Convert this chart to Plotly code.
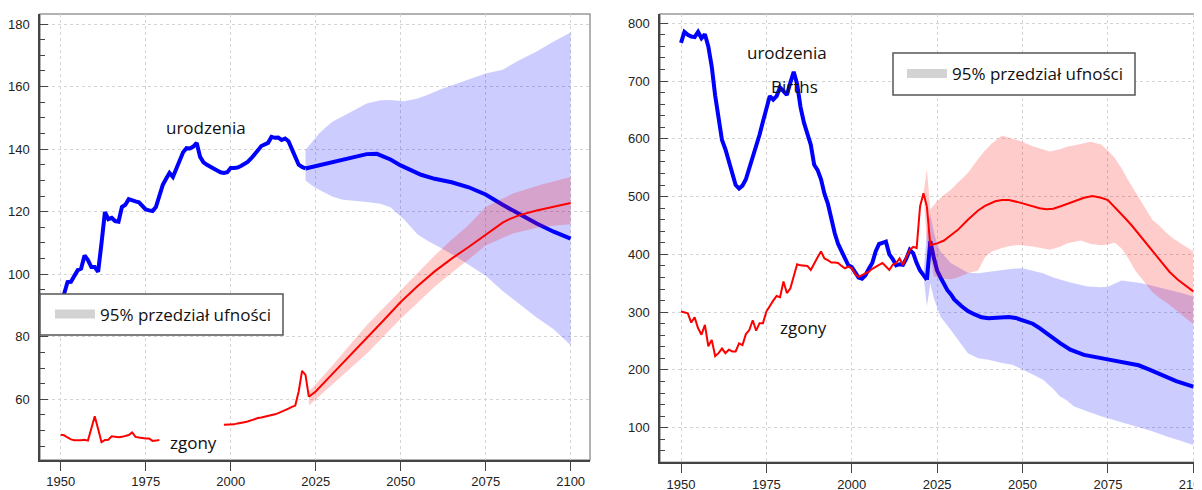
import plotly.graph_objects as go

# ---------------- left panel (thousands) ----------------
births_hist_yr = list(range(1950, 2023))
births_hist = [90, 93.5, 97.5, 97.6, 99.5, 101.3, 101.8, 106, 104.5, 102.3,
               102.3, 100.8, 110, 119.9, 117.6, 118, 117, 116.8, 121.5, 122.2,
               124, 123.5, 123.3, 123, 122, 120.7, 120.4, 120.2, 121.5, 125,
               128.5, 130.5, 132.4, 131.1, 134, 136.5, 139, 140.3, 140.2, 140.8,
               142, 137.5, 135.8, 135, 134.5, 133.9, 133.2, 132.6, 132.4, 132.6,
               134, 134, 134.1, 134.6, 135.3, 135.9, 137, 138.1, 139.6, 141,
               141.6, 142, 143.9, 143.6, 143.7, 142.9, 143.4, 142.5, 140, 137.5,
               135, 134.3, 133.8]
births_proj_yr = [2022, 2025, 2030, 2035, 2040, 2043, 2047, 2050, 2053, 2056,
                  2060, 2065, 2070, 2075, 2080, 2085, 2090, 2095, 2100]
births_proj = [133.8, 134.6, 135.9, 137.2, 138.4, 138.5, 136.7, 134.8, 133.2, 131.8,
               130.5, 129.4, 127.8, 125.5, 122.2, 119.2, 116.2, 113.6, 111.4]
births_ci_yr = [2022, 2024, 2026, 2028, 2030, 2033, 2036, 2040, 2044, 2047, 2051,
                2055, 2058, 2062, 2066, 2070, 2075, 2080, 2085, 2090, 2095, 2100]
births_ci_hi = [139.7, 142.5, 145, 147, 148.8, 150.5, 152.2, 154.6, 155.6, 155.7, 155.3,
                156.2, 157.4, 159.2, 160.7, 162.3, 164.2, 165.4, 168.5, 171.2, 174.4, 177.3]
births_ci_lo = [130, 128.3, 127, 125.8, 124.8, 123.8, 123.4, 123.1, 122.5, 121.4, 117.5,
                112.7, 110.6, 108.3, 105.8, 103, 99.5, 94.6, 90.4, 86.2, 82.4, 77.3]

deaths_hist_yr = list(range(1950, 1980)) + [1988] + list(range(1998, 2024))
deaths_hist = [48.7, 48.5, 47.8, 47.2, 46.9, 46.8, 46.9, 47.1, 46.8, 50.7,
               54.6, 50.5, 46.3, 47, 47.1, 48.2, 48, 47.9, 48, 48.3,
               48.6, 49.4, 48, 47.8, 47.6, 47.5, 47.5, 46.7, 46.8, 47,
               None,  # break in the observed series
               51.9, 51.9, 51.9, 52, 52.3, 52.6, 52.7, 52.9, 53.3, 53.6,
               54, 54.2, 54.4, 54.6, 54.9, 55.2, 55.6, 56, 56.4, 57,
               57.6, 58, 62.5, 69.1, 67.8, 60.8]
deaths_proj_yr = [2023, 2025, 2030, 2035, 2040, 2045, 2050, 2055, 2060, 2065,
                  2070, 2075, 2078, 2080, 2082, 2085, 2090, 2095, 2100]
deaths_proj = [60.8, 62.5, 68.2, 73.8, 79.4, 85.3, 91.1, 96.2, 100.9, 105.0,
               108.7, 112.5, 115.0, 116.5, 117.6, 118.9, 120.4, 121.6, 122.8]
deaths_ci_yr = [2023, 2030, 2040, 2050, 2060, 2065, 2070, 2075, 2083, 2091, 2100]
deaths_ci_hi = [62.4, 70.9, 83.7, 94.9, 106, 111, 115.7, 121.5, 125.8, 128.5, 131.1]
deaths_ci_lo = [58, 65, 74.6, 85.8, 96, 100.5, 104.7, 109.2, 113, 115.1, 116]

# ---------------- right panel (thousands) ----------------
births2_hist_yr = list(range(1950, 2023))
births2_hist = [766, 785, 780, 777, 776, 785, 774, 781, 760, 725,
                675, 635, 598, 582, 560, 537, 520, 514, 519, 530,
                548, 566, 588, 607, 630, 652, 674, 668, 674, 689,
                682, 676, 697, 716, 695, 655, 628, 610, 590, 555,
                546, 530, 505, 488, 462, 437, 418, 405, 393, 381,
                378, 370, 360, 358, 364, 375, 385, 405, 418, 420,
                422, 400, 392, 381, 383, 382, 393, 408, 402, 385,
                372, 364, 356]
births2_proj_yr = [2022, 2023, 2024, 2025, 2026, 2027, 2028, 2029, 2030, 2032,
                   2034, 2036, 2038, 2040, 2043, 2046, 2048, 2050, 2053, 2055,
                   2058, 2061, 2064, 2068, 2073, 2078, 2082, 2084, 2087, 2090,
                   2093, 2095, 2100]
births2_proj = [356, 423, 395, 372, 360, 348, 338, 331, 322, 311,
                302, 296, 291, 289.5, 290, 291.4, 290, 286.7, 280, 272.3,
                259, 246.4, 235, 226, 220.4, 214.5, 210.5, 208, 201, 193,
                185, 180.5, 171]
births2_ci_yr = [2021, 2022, 2023, 2024, 2025, 2026, 2029, 2034, 2037, 2040,
                 2044, 2047, 2050, 2053, 2056, 2059, 2061, 2063, 2065, 2069,
                 2073, 2075, 2079, 2083, 2085, 2088, 2092, 2096, 2100]
births2_ci_hi = [364, 440, 470, 440, 418, 405, 385, 368, 367.5, 370,
                 373, 375, 376, 372, 367.5, 360, 356, 353, 350, 344.3,
                 343, 344, 354.8, 351, 350, 345.5, 340, 334, 327]
births2_ci_lo = [364, 310, 350, 325, 308, 292, 269, 229, 220, 217.5,
                 212, 209, 200, 192, 183, 167, 154, 147, 137, 128,
                 120, 116, 109, 102, 99, 94, 85, 78, 70]

deaths2_hist_yr = list(range(1950, 2023))
deaths2_hist = [301, 299, 298, 282, 291, 272, 261, 278, 241, 252,
                224, 229, 237, 229, 235, 232, 232, 246, 243, 262,
                269, 286, 268, 281, 281, 301, 311, 320, 328, 326,
                353, 333, 341, 360, 383, 381, 380, 380, 373, 385,
                395, 405, 393, 390, 386, 386, 385, 380, 376, 379,
                376, 366, 361, 364, 367, 370, 375, 379, 382, 385,
                378, 373, 382, 385, 393, 382, 396, 408, 413, 411,
                483, 506, 483]
deaths2_proj_yr = [2022, 2023, 2025, 2027, 2029, 2031, 2034, 2037, 2039, 2042,
                   2044, 2046, 2049, 2052, 2055, 2057, 2059, 2061, 2064, 2066,
                   2068, 2070.5, 2073, 2075, 2077, 2080, 2082, 2085, 2088, 2090.5,
                   2093, 2095.5, 2098, 2100]
deaths2_proj = [483, 416, 419, 424, 433, 442, 460, 476, 484, 492,
                494, 494, 490, 485, 480, 478, 479, 483, 489, 494,
                498, 501, 498, 494, 482, 463, 450, 428, 405, 388,
                370, 356, 344, 336]
deaths2_ci_yr = [2021, 2022, 2023, 2024, 2025, 2027, 2029, 2031, 2034, 2037,
                 2039, 2041, 2044, 2046, 2049, 2053, 2058, 2061, 2063, 2067,
                 2070, 2073, 2075, 2077, 2079, 2081, 2083, 2086, 2088, 2090,
                 2092, 2094, 2097, 2100]
deaths2_ci_hi = [506, 548, 478, 485, 492, 503, 512, 524, 541, 565,
                 580, 592, 606, 602, 597, 587, 578, 582, 586.5, 591,
                 595, 590, 580, 567, 549, 528, 508, 478, 460, 450,
                 438, 428, 416, 405]
deaths2_ci_lo = [506, 420, 398, 362, 360, 358, 357, 360, 367.5, 372,
                 395, 405, 411, 414, 416.4, 413.5, 408, 413, 419, 424,
                 418, 416, 417, 420, 410, 393, 372, 350, 335, 325,
                 317, 308, 294, 279]

legend_label = "95% przedział ufności"

BLUE = "#0000ff"
RED = "#ff0000"
BLUE_CI = "rgba(0,0,255,0.2)"
RED_CI = "rgba(255,0,0,0.2)"
TEXT_FONT = dict(family="Open Sans", size=17, color="#111")

W, H = 1202, 490
OFF = 8  # page body margin: the figure sits 8px in from the window corner


def px(x):
    return (x - OFF) / W


def py(y):
    return 1 - (y - OFF) / H


fig = go.Figure()


def band(xs, hi, lo, color, xa, ya):
    return go.Scatter(x=xs + xs[::-1], y=hi + lo[::-1], fill="toself", fillcolor=color,
                      line=dict(width=0), mode="lines", hoverinfo="skip",
                      showlegend=False, xaxis=xa, yaxis=ya)


def line(xs, ys, color, width, xa, ya):
    return go.Scatter(x=xs, y=ys, mode="lines", line=dict(color=color, width=width),
                      showlegend=False, xaxis=xa, yaxis=ya, connectgaps=False)


for xa, ya, b, r in [
    ("x", "y",
     (births_hist_yr, births_hist, births_proj_yr, births_proj, births_ci_yr, births_ci_hi, births_ci_lo),
     (deaths_hist_yr, deaths_hist, deaths_proj_yr, deaths_proj, deaths_ci_yr, deaths_ci_hi, deaths_ci_lo)),
    ("x2", "y2",
     (births2_hist_yr, births2_hist, births2_proj_yr, births2_proj, births2_ci_yr, births2_ci_hi, births2_ci_lo),
     (deaths2_hist_yr, deaths2_hist, deaths2_proj_yr, deaths2_proj, deaths2_ci_yr, deaths2_ci_hi, deaths2_ci_lo)),
]:
    fig.add_trace(band(b[4], b[5], b[6], BLUE_CI, xa, ya))
    fig.add_trace(line(b[0], b[1], BLUE, 4, xa, ya))
    fig.add_trace(line(b[2], b[3], BLUE, 4, xa, ya))
    fig.add_trace(band(r[4], r[5], r[6], RED_CI, xa, ya))
    fig.add_trace(line(r[0], r[1], RED, 2, xa, ya))
    fig.add_trace(line(r[2], r[3], RED, 2, xa, ya))

# legend entries (one legend per panel)
for lg, xa, ya in [("legend", "x", "y"), ("legend2", "x2", "y2")]:
    fig.add_trace(go.Scatter(x=[None], y=[None], mode="lines", name=legend_label,
                             line=dict(color="#d3d3d3", width=9), legend=lg,
                             xaxis=xa, yaxis=ya))

tickfont = dict(family="Liberation Sans, Arial", size=13, color="#222")
axis_common = dict(showline=True, linecolor="#444", linewidth=1.5, automargin=False,
                   showgrid=True, gridcolor="#d4d4d4", griddash="dot", gridwidth=1,
                   zeroline=False, tickfont=tickfont, tickcolor="#444")

xticks = [1950, 1975, 2000, 2025, 2050, 2075, 2100]

legend_common = dict(xanchor="left", yanchor="middle", bgcolor="rgba(0,0,0,0)",
                     borderwidth=0, font=TEXT_FONT, itemwidth=40)


def legend_box(x0, y0, x1, y1):
    return dict(type="rect", xref="paper", yref="paper", x0=px(x0), x1=px(x1),
                y0=py(y1), y1=py(y0), fillcolor="white",
                line=dict(color="#555", width=1.5), layer="above")


fig.update_layout(
    width=W, height=H, margin=dict(l=0, r=0, t=0, b=0, autoexpand=False),
    paper_bgcolor="white", plot_bgcolor="white",
    xaxis=dict(domain=[px(40), px(590)], range=[1943.9, 2105.7], anchor="y",
               tickvals=xticks, ticks="outside", ticklen=9, **axis_common),
    yaxis=dict(domain=[py(460), py(14)], range=[40.6, 183.2], anchor="x",
               dtick=20, ticks="inside", ticklen=8, ticklabelstandoff=6,
               minor=dict(dtick=5, ticks="inside", ticklen=5, tickcolor="#444", showgrid=False),
               **axis_common),
    xaxis2=dict(domain=[px(660), 1.0], range=[1943.85, 2104.9], anchor="y2",
                tickvals=xticks, ticks="outside", ticklen=9, **axis_common),
    yaxis2=dict(domain=[py(462.3), py(14)], range=[40.1, 816.1], anchor="x2",
                dtick=100, tick0=0, ticks="inside", ticklen=8, ticklabelstandoff=6,
                minor=dict(dtick=20, ticks="inside", ticklen=5, tickcolor="#444", showgrid=False),
                **axis_common),
    legend=dict(x=px(50), y=py(314.5), **legend_common),
    legend2=dict(x=px(902), y=py(74), **legend_common),
    shapes=[
        dict(type="rect", xref="x domain", yref="y domain", x0=0, x1=1, y0=0, y1=1,
             line=dict(color="#999", width=1.5), layer="below"),
        dict(type="rect", xref="x2 domain", yref="y2 domain", x0=0, x1=1, y0=0, y1=1,
             line=dict(color="#999", width=1.5), layer="below"),
        legend_box(40, 294, 283, 335),
        legend_box(893, 53, 1135, 95),
    ],
    annotations=[
        dict(x=1992.6, y=147, xref="x", yref="y", text="urodzenia", showarrow=False, font=TEXT_FONT),
        dict(x=1989.2, y=46.2, xref="x", yref="y", text="zgony", showarrow=False, font=TEXT_FONT),
        dict(x=1980.9, y=750, xref="x2", yref="y2", text="urodzenia", showarrow=False, font=TEXT_FONT),
        dict(x=1983.2, y=690, xref="x2", yref="y2", text="Births", showarrow=False, font=TEXT_FONT),
        dict(x=1986, y=274, xref="x2", yref="y2", text="zgony", showarrow=False, font=TEXT_FONT),
    ],
)

fig.write_html("out.html")
